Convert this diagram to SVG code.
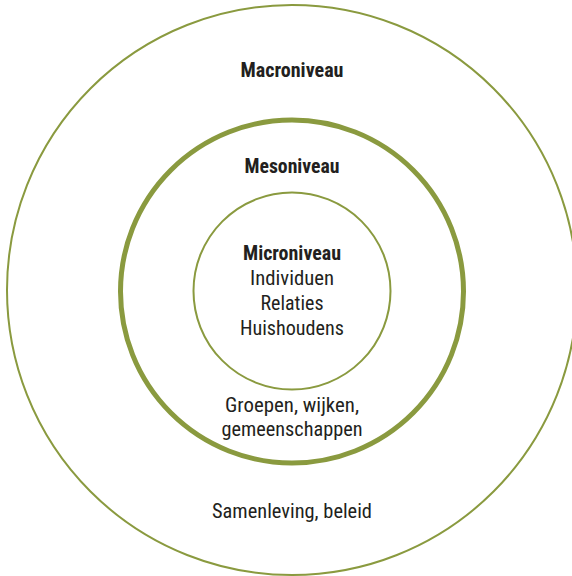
<svg xmlns="http://www.w3.org/2000/svg" width="572" height="576" viewBox="0 0 572 576">
<style>
.ring{fill:none;stroke:#8a9a3f}
.t{font-family:"Liberation Sans Narrow","Roboto Condensed","Liberation Sans",sans-serif;font-size:20px;fill:#231f20;text-anchor:middle}
.b{font-weight:bold}
</style>
<rect width="572" height="576" fill="#ffffff"/>
<g id="macro">
<circle class="ring" cx="292" cy="290" r="285" stroke-width="2"/>
<text class="t b" x="292" y="77" textLength="103" lengthAdjust="spacingAndGlyphs">Macroniveau</text>
<text class="t" x="292" y="518" textLength="160" lengthAdjust="spacingAndGlyphs">Samenleving, beleid</text>
</g>
<g id="meso">
<circle class="ring" cx="292" cy="291.5" r="171.5" stroke-width="5"/>
<text class="t b" x="292" y="173" textLength="95" lengthAdjust="spacingAndGlyphs">Mesoniveau</text>
<text class="t" x="292" y="412" textLength="134" lengthAdjust="spacingAndGlyphs">Groepen, wijken,</text>
<text class="t" x="292" y="436" textLength="141" lengthAdjust="spacingAndGlyphs">gemeenschappen</text>
</g>
<g id="micro">
<circle class="ring" cx="292" cy="291" r="98.5" stroke-width="2"/>
<text class="t b" x="292" y="260" textLength="98" lengthAdjust="spacingAndGlyphs">Microniveau</text>
<text class="t" x="292" y="285" textLength="84" lengthAdjust="spacingAndGlyphs">Individuen</text>
<text class="t" x="292" y="310" textLength="63" lengthAdjust="spacingAndGlyphs">Relaties</text>
<text class="t" x="292" y="335" textLength="104" lengthAdjust="spacingAndGlyphs">Huishoudens</text>
</g>
<g id="connectors"></g>
</svg>
